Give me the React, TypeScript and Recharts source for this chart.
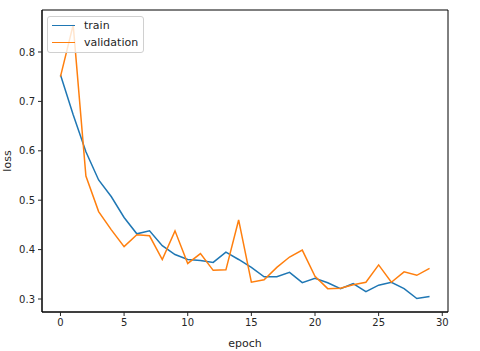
import { LineChart, Line, XAxis, YAxis, ReferenceArea } from "recharts"

// epochs 0..29
const epochs = [
  0, 1, 2, 3, 4, 5, 6, 7, 8, 9, 10, 11, 12, 13, 14, 15, 16, 17, 18, 19, 20, 21, 22, 23, 24, 25, 26, 27, 28, 29,
]

const trainLoss = [
  0.754, 0.673, 0.598, 0.541, 0.507, 0.465, 0.432, 0.438, 0.408, 0.39, 0.38, 0.378, 0.374, 0.395, 0.38, 0.364,
  0.345, 0.345, 0.354, 0.333, 0.342, 0.333, 0.321, 0.331, 0.315, 0.328, 0.334, 0.321, 0.301, 0.305,
]

const valLoss = [
  0.75, 0.855, 0.549, 0.477, 0.44, 0.406, 0.43, 0.428, 0.38, 0.438, 0.372, 0.392, 0.358, 0.359, 0.46, 0.334,
  0.339, 0.364, 0.385, 0.399, 0.346, 0.321, 0.322, 0.329, 0.334, 0.369, 0.334, 0.355, 0.348, 0.362,
]

const xTicks = [0, 5, 10, 15, 20, 25, 30]
const yTicks = [0.3, 0.4, 0.5, 0.6, 0.7, 0.8]

const series = [
  { key: "train", color: "#1f77b4" },
  { key: "validation", color: "#ff7f0e" },
]

const data = epochs.map((e, i) => ({ epoch: e, train: trainLoss[i], validation: valLoss[i] }))

const X_DOMAIN: [number, number] = [-1.45, 30.45]
const Y_DOMAIN: [number, number] = [0.2737, 0.885]

const FONT = "'DejaVu Sans', sans-serif"
const tickStyle = { fontSize: 10, fill: "#262626", fontFamily: FONT }
const labelStyle = { fontSize: 11, fill: "#262626", fontFamily: FONT }

function LegendBox() {
  return (
    <div
      style={{
        position: "absolute",
        left: 47,
        top: 16,
        border: "1px solid #d0d0d0",
        borderRadius: 3,
        background: "rgba(255,255,255,0.8)",
        padding: "0px 5px 1px 4px",
        fontFamily: FONT,
        fontSize: 11,
        color: "#262626",
        lineHeight: "17px",
      }}
    >
      {series.map((s) => (
        <div key={s.key} style={{ display: "flex", alignItems: "center" }}>
          <span style={{ display: "inline-block", width: 23, height: 0, borderTop: `1.5px solid ${s.color}`, marginRight: 9 }} />
          {s.key}
        </div>
      ))}
    </div>
  )
}

export default function App() {
  return (
    <div style={{ position: "absolute", left: 0, top: 0, width: 480, height: 351, background: "#fff" }}>
      <LineChart width={480} height={351} data={data} margin={{ top: 10, right: 32, bottom: 0, left: 0 }}>
        <XAxis
          dataKey="epoch"
          type="number"
          domain={X_DOMAIN}
          ticks={xTicks}
          allowDataOverflow
          height={39}
          tickSize={4}
          tickMargin={3}
          tick={tickStyle}
          axisLine={{ stroke: "#000" }}
          tickLine={{ stroke: "#262626" }}
          label={{ value: "epoch", position: "insideBottom", offset: 4, style: labelStyle }}
        />
        <YAxis
          type="number"
          domain={Y_DOMAIN}
          ticks={yTicks}
          allowDataOverflow
          width={42}
          tickSize={4}
          tickMargin={3}
          tick={tickStyle}
          tickFormatter={(v: number) => v.toFixed(1)}
          axisLine={{ stroke: "#000" }}
          tickLine={{ stroke: "#262626" }}
          label={{
            value: "loss",
            angle: -90,
            position: "insideLeft",
            offset: 7,
            style: { ...labelStyle, textAnchor: "middle" },
          }}
        />
        <ReferenceArea x1={X_DOMAIN[0]} x2={X_DOMAIN[1]} y1={Y_DOMAIN[0]} y2={Y_DOMAIN[1]} fill="none" stroke="#000" strokeWidth={1} ifOverflow="extendDomain" />
        {series.map((s) => (
          <Line key={s.key} dataKey={s.key} name={s.key} stroke={s.color} strokeWidth={1.5} dot={false} isAnimationActive={false} />
        ))}
      </LineChart>
      <LegendBox />
    </div>
  )
}
